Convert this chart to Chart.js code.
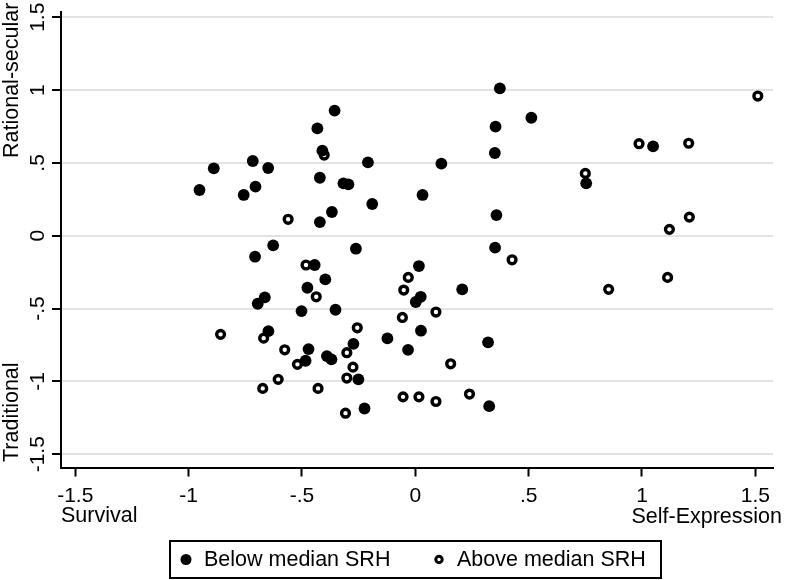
<!DOCTYPE html>
<html lang="en">
<head>
    <meta charset="UTF-8">
    <title>Survival / Self-Expression vs Traditional / Rational-secular</title>
    <script src="https://cdn.jsdelivr.net/npm/chart.js"></script>
    <style>
        body {
            margin: 0;
            background-color: #fff;
        }
        #wrap {
            width: 786px;
            height: 580px;
        }
    </style>
</head>
<body>
    <div id="wrap">
        <canvas id="scatter" width="786" height="580"></canvas>
    </div>

    <script>
        // values
        const belowX = [-0.952, -0.889, -0.717, -0.757, -0.705, -0.649, -0.356, -0.432, -0.410, -0.209,
                        0.115, -0.421, -0.317, -0.295, 0.032, -0.190, -0.368, -0.421, -0.627, -0.707,
                        -0.262, -0.444, -0.397, -0.476, -0.664, -0.695, -0.502, -0.352, -0.648, -0.471,
                        -0.484, -0.390, -0.370, -0.273, -0.251, -0.224, -0.123, -0.032, 0.025, 0.016,
                        0.024, 0.002, 0.207, 0.321, 0.326, 0.373, 0.512, 0.354, 0.351, 0.358,
                        0.352, 0.754, 1.049];
        const belowY = [0.314, 0.463, 0.513, 0.280, 0.337, 0.465, 0.859, 0.737, 0.584, 0.504,
                        0.495, 0.398, 0.360, 0.353, 0.280, 0.218, 0.163, 0.094, -0.066, -0.144,
                        -0.089, -0.201, -0.300, -0.357, -0.423, -0.467, -0.517, -0.508, -0.655, -0.778,
                        -0.858, -0.826, -0.849, -0.742, -0.986, -1.186, -0.705, -0.783, -0.652, -0.208,
                        -0.419, -0.455, -0.368, -0.732, -1.170, 1.012, 0.810, 0.749, 0.568, 0.142,
                        -0.082, 0.360, 0.614];
        const aboveX = [-0.402, -0.561, -0.482, -0.437, -0.859, -0.669, -0.576, -0.520, -0.256, -0.302,
                        -0.275, -0.302, -0.605, -0.673, -0.429, -0.308, -0.057, 0.091, -0.031, -0.051,
                        -0.054, 0.016, 0.091, 0.427, 0.156, 0.239, 0.853, 0.750, 0.987, 1.206,
                        1.511, 1.209, 1.121, 1.113];
        const aboveY = [0.554, 0.113, -0.201, -0.419, -0.677, -0.703, -0.783, -0.883, -0.632, -0.803,
                        -0.902, -0.977, -0.986, -1.048, -1.048, -1.218, -0.561, -0.524, -0.286, -0.373,
                        -1.106, -1.106, -1.138, -0.165, -0.879, -1.087, -0.368, 0.428, 0.632, 0.635,
                        0.959, 0.128, 0.044, -0.286];

        const seriesNames = ['Below median SRH', 'Above median SRH'];
        const xTicks = [-1.5, -1, -0.5, 0, 0.5, 1, 1.5];
        const yTicks = [-1.5, -1, -0.5, 0, 0.5, 1, 1.5];

        const FONT = '"Liberation Sans", Arial, Helvetica, sans-serif';

        // Stata style: -.5 / .5
        function fmt(v) {
            return String(v).replace(/^(-?)0\./, '$1.');
        }

        function toPoints(xs, ys) {
            return xs.map((x, i) => ({ x: x, y: ys[i] }));
        }

        const stataText = {
            id: 'stataText',
            afterDraw(chart) {
                const { ctx, scales } = chart;
                const y = scales.y;
                ctx.save();
                ctx.fillStyle = '#000';

                // rotated y tick labels
                ctx.font = '21px ' + FONT;
                yTicks.forEach(v => {
                    ctx.save();
                    ctx.translate(44, y.getPixelForValue(v));
                    ctx.rotate(-Math.PI / 2);
                    ctx.textAlign = 'center';
                    ctx.textBaseline = 'alphabetic';
                    ctx.fillText(fmt(v), 0, 0);
                    ctx.restore();
                });

                // axis end titles
                ctx.font = '21.5px ' + FONT;
                ctx.save();
                ctx.translate(18, 158);
                ctx.rotate(-Math.PI / 2);
                ctx.textAlign = 'left';
                ctx.fillText('Rational-secular', 0, 0);
                ctx.restore();

                ctx.save();
                ctx.translate(18, 462);
                ctx.rotate(-Math.PI / 2);
                ctx.textAlign = 'left';
                ctx.fillText('Traditional', 0, 0);
                ctx.restore();

                ctx.textBaseline = 'middle';
                ctx.textAlign = 'left';
                ctx.fillText('Survival', 61, 516);
                ctx.textAlign = 'right';
                ctx.fillText('Self-Expression', 782, 517);

                // boxed legend
                const box = { left: 170, top: 541, right: 661, bottom: 578 };
                ctx.lineWidth = 2;
                ctx.strokeStyle = '#000';
                ctx.strokeRect(box.left, box.top, box.right - box.left, box.bottom - box.top);
                const cy = (box.top + box.bottom) / 2;
                const marks = [186, 439];
                ctx.textAlign = 'left';
                chart.data.datasets.forEach((ds, i) => {
                    ctx.beginPath();
                    if (ds.pointBorderWidth > 0) {
                        ctx.arc(marks[i], cy, 3.2, 0, Math.PI * 2);
                        ctx.lineWidth = 3;
                        ctx.stroke();
                    } else {
                        ctx.arc(marks[i], cy, 5.5, 0, Math.PI * 2);
                        ctx.fill();
                    }
                    ctx.fillText(ds.label, marks[i] + 18, cy + 1);
                });
                ctx.restore();
            }
        };

        new Chart(document.getElementById('scatter'), {
            type: 'scatter',
            data: {
                datasets: [
                    {
                        label: seriesNames[0],
                        data: toPoints(belowX, belowY),
                        pointRadius: 5.9,
                        pointBackgroundColor: '#000',
                        pointBorderWidth: 0
                    },
                    {
                        label: seriesNames[1],
                        data: toPoints(aboveX, aboveY),
                        pointRadius: 3.9,
                        pointBackgroundColor: '#fff',
                        pointBorderColor: '#000',
                        pointBorderWidth: 3.4
                    }
                ]
            },
            options: {
                responsive: false,
                animation: false,
                layout: { padding: { top: 12, right: 13, left: 0, bottom: 0 } },
                plugins: {
                    legend: { display: false },
                    tooltip: { enabled: false }
                },
                scales: {
                    x: {
                        type: 'linear',
                        min: -1.563,
                        max: 1.578,
                        afterBuildTicks: s => { s.ticks = xTicks.map(v => ({ value: v })); },
                        afterFit: s => { s.height = 580 - 467.5; },
                        border: { color: '#000', width: 2 },
                        grid: {
                            drawOnChartArea: false,
                            tickColor: '#000',
                            tickLength: 9,
                            tickWidth: 2
                        },
                        ticks: {
                            color: '#000',
                            padding: 7,
                            maxRotation: 0,
                            font: { family: FONT, size: 21 },
                            callback: v => fmt(v)
                        }
                    },
                    y: {
                        type: 'linear',
                        min: -1.591,
                        max: 1.536,
                        afterBuildTicks: s => { s.ticks = yTicks.map(v => ({ value: v })); },
                        afterFit: s => { s.width = 61; },
                        border: { color: '#000', width: 2 },
                        grid: {
                            color: '#e3e3e3',
                            lineWidth: 2,
                            tickColor: '#000',
                            tickLength: 9,
                            tickWidth: 2
                        },
                        ticks: { display: false }
                    }
                }
            },
            plugins: [stataText]
        });
    </script>
</body>
</html>
